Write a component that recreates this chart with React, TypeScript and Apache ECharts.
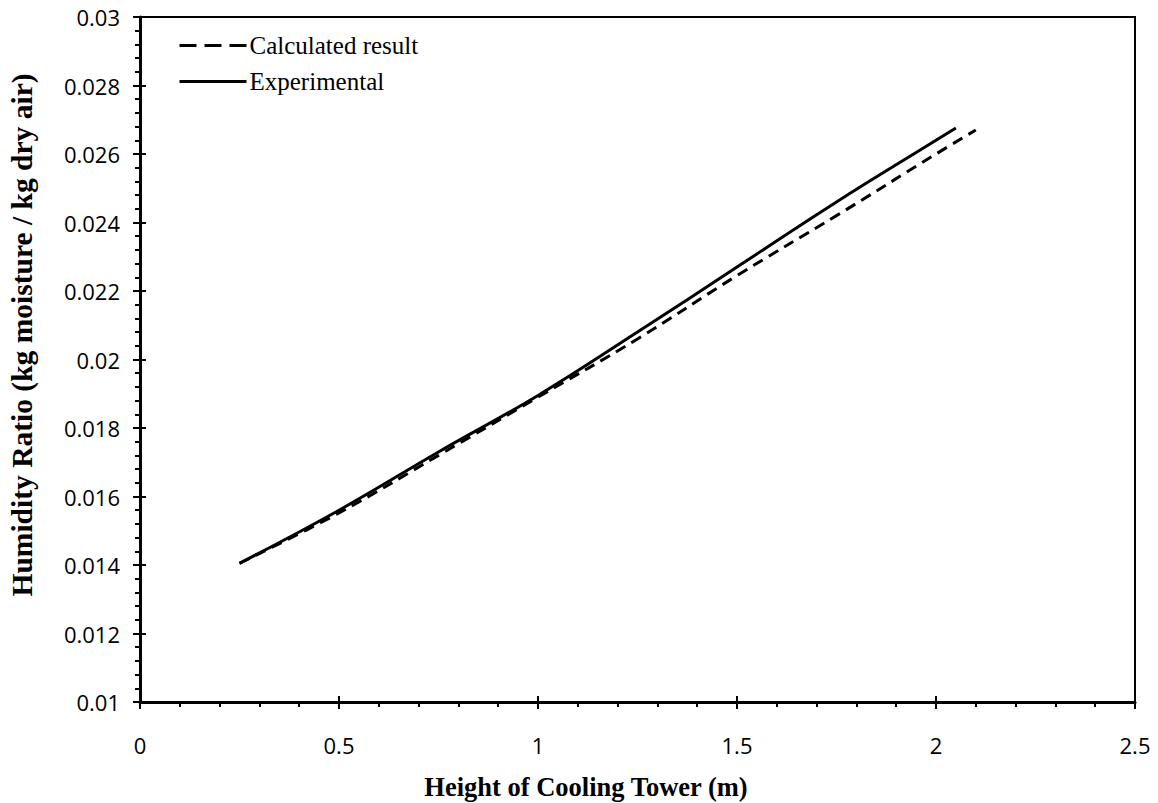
import React, { useEffect, useRef } from "react";
import * as echarts from "echarts";

const heightCalc = [0.25, 0.5, 0.75, 1.0, 1.25, 1.5, 1.75, 2.0, 2.1];
const humidityCalc = [0.01405, 0.01552, 0.0172, 0.0189, 0.0206, 0.02245, 0.0242, 0.026, 0.0267];
const heightExp = [0.25, 0.5, 0.75, 1.0, 1.25, 1.5, 1.75, 2.0, 2.05];
const humidityExp = [0.01405, 0.0156, 0.0173, 0.01895, 0.0208, 0.0227, 0.0246, 0.0264, 0.02676];

const seriesNames = ["Calculated result", "Experimental"];
const xTitle = "Height of Cooling Tower (m)";
const yTitle = "Humidity Ratio (kg moisture / kg dry air)";

export default function App() {
  const ref = useRef<HTMLDivElement>(null);
  useEffect(() => {
    if (!ref.current) return;
    const chart = echarts.init(ref.current, undefined, { renderer: "svg" });
    const labelFont = "'Open Sans', 'Noto Sans', sans-serif";
    const serif = "'Liberation Serif', 'DejaVu Serif', serif";
    const xBase = {
      type: "value" as const,
      min: 0,
      max: 2.5,
      interval: 0.5,
      splitLine: { show: false },
    };
    const yBase = {
      type: "value" as const,
      min: 0.01,
      max: 0.03,
      interval: 0.002,
      splitLine: { show: false },
    };
    chart.setOption({
      animation: false,
      backgroundColor: "#fff",
      grid: {
        left: 140,
        right: 23,
        top: 17,
        bottom: 101,
        show: true,
        borderColor: "#000",
        borderWidth: 2,
        containLabel: false,
      },
      graphic: [
        {
          type: "text",
          x: 586,
          y: 787,
          style: {
            text: xTitle,
            fontFamily: serif,
            fontWeight: "bold",
            fontSize: 26.5,
            fill: "#000",
            align: "center",
            verticalAlign: "middle",
          },
        },
        {
          type: "text",
          x: 22,
          y: 335,
          rotation: Math.PI / 2,
          style: {
            text: yTitle,
            fontFamily: serif,
            fontWeight: "bold",
            fontSize: 29.5,
            fill: "#000",
            align: "center",
            verticalAlign: "middle",
          },
        },
      ],
      legend: {
        orient: "vertical",
        left: 173,
        top: 28,
        itemWidth: 67,
        itemHeight: 14,
        itemGap: 11,
        data: [
          { name: seriesNames[0], lineStyle: { width: 3, type: [17, 8], color: "#000" } },
          { name: seriesNames[1], lineStyle: { width: 3, type: "solid", color: "#000" } },
        ],
        itemStyle: { opacity: 0 },
        lineStyle: { width: 3 },
        textStyle: { fontFamily: serif, fontSize: 25, color: "#000", padding: [0, 0, 0, -2] },
      },
      xAxis: [
        {
          ...xBase,
          axisLine: { show: true, lineStyle: { color: "#000", width: 3 } },
          axisTick: { show: true, inside: false, length: 7, lineStyle: { color: "#000", width: 2 } },
          minorTick: { show: true, splitNumber: 5, length: 5, lineStyle: { color: "#000", width: 2 } },
          axisLabel: {
            margin: 32,
            fontFamily: labelFont,
            fontSize: 22,
            color: "#000",
            formatter: (v: number) => String(v),
          },
        },
        {
          ...xBase,
          position: "bottom",
          axisLine: { show: false },
          axisTick: { show: true, inside: true, length: 6, lineStyle: { color: "#000", width: 2 } },
          axisLabel: { show: false },
        },
      ],
      yAxis: [
        {
          ...yBase,
          axisLine: { show: true, lineStyle: { color: "#000", width: 3 } },
          axisTick: { show: true, inside: false, length: 7, lineStyle: { color: "#000", width: 2 } },
          minorTick: { show: true, splitNumber: 5, length: 5, lineStyle: { color: "#000", width: 2 } },
          axisLabel: {
            margin: 20,
            fontFamily: labelFont,
            fontSize: 22,
            color: "#000",
            formatter: (v: number) => String(parseFloat(v.toFixed(4))),
          },
        },
        {
          ...yBase,
          position: "left",
          axisLine: { show: false },
          axisTick: { show: true, inside: true, length: 6, lineStyle: { color: "#000", width: 2 } },
          axisLabel: { show: false },
        },
      ],
      series: [
        {
          name: seriesNames[0],
          type: "line",
          smooth: 0.4,
          symbol: "none",
          data: heightCalc.map((h, i) => [h, humidityCalc[i]]),
          lineStyle: { color: "#000", width: 3, type: [11, 7] },
          itemStyle: { color: "#000" },
        },
        {
          name: seriesNames[1],
          type: "line",
          smooth: 0.4,
          symbol: "none",
          data: heightExp.map((h, i) => [h, humidityExp[i]]),
          lineStyle: { color: "#000", width: 3, type: "solid" },
          itemStyle: { color: "#000" },
        },
      ],
    });
    return () => chart.dispose();
  }, []);
  return <div ref={ref} style={{ width: 1158, height: 803, position: "absolute", left: 0, top: 0 }} />;
}
